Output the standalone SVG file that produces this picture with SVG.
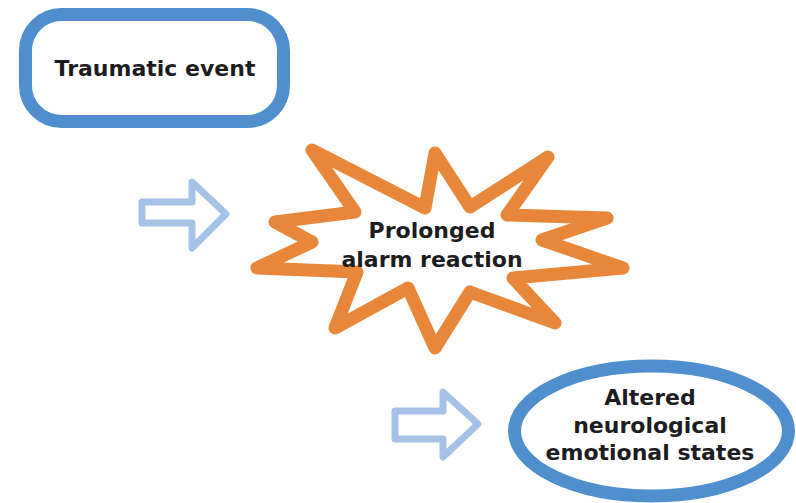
<svg xmlns="http://www.w3.org/2000/svg" width="796" height="503" viewBox="0 0 796 503">
<style>
.lbl{font-family:"DejaVu Sans",sans-serif;font-weight:bold;font-size:22px;fill:#1d1d1f;text-anchor:middle}
.blue{fill:#fff;stroke:#4f8fcd;stroke-width:13}
.arr{fill:#fff;stroke:#a5c2e7;stroke-width:7;stroke-linejoin:round}
.star{fill:#fff;stroke:#e8873a;stroke-width:13;stroke-linejoin:round}
</style>
<rect width="796" height="503" fill="#fff"/>
<g id="connectors">
<path class="arr" d="M142,202 L192,202 L192,182 L226,214 L192,248 L192,223 L142,223 Z"/>
<path class="arr" d="M395,411 L443,411 L443,392 L478,424 L443,457 L443,439 L395,439 Z"/>
</g>
<g id="traumatic">
<rect class="blue" x="25.5" y="14.5" width="258" height="107" rx="36"/>
<text class="lbl" x="155" y="76">Traumatic event</text>
</g>
<g id="alarm">
<path class="star" d="M312,150 L425,208 L435,153 L470,207 L548,157 L507,215 L607,218 L542,240 L623,268 L513,278 L555,323 L470,292 L435,348 L408,288 L335,328 L357,272 L257,268 L312,242 L275,222 L355,212 Z"/>
<text class="lbl" x="432" y="238">Prolonged</text>
<text class="lbl" x="432" y="267">alarm reaction</text>
</g>
<g id="altered">
<ellipse class="blue" cx="651.5" cy="431" rx="137" ry="65"/>
<text class="lbl" x="650" y="405">Altered</text>
<text class="lbl" x="650" y="433">neurological</text>
<text class="lbl" x="650" y="460">emotional states</text>
</g>
</svg>
